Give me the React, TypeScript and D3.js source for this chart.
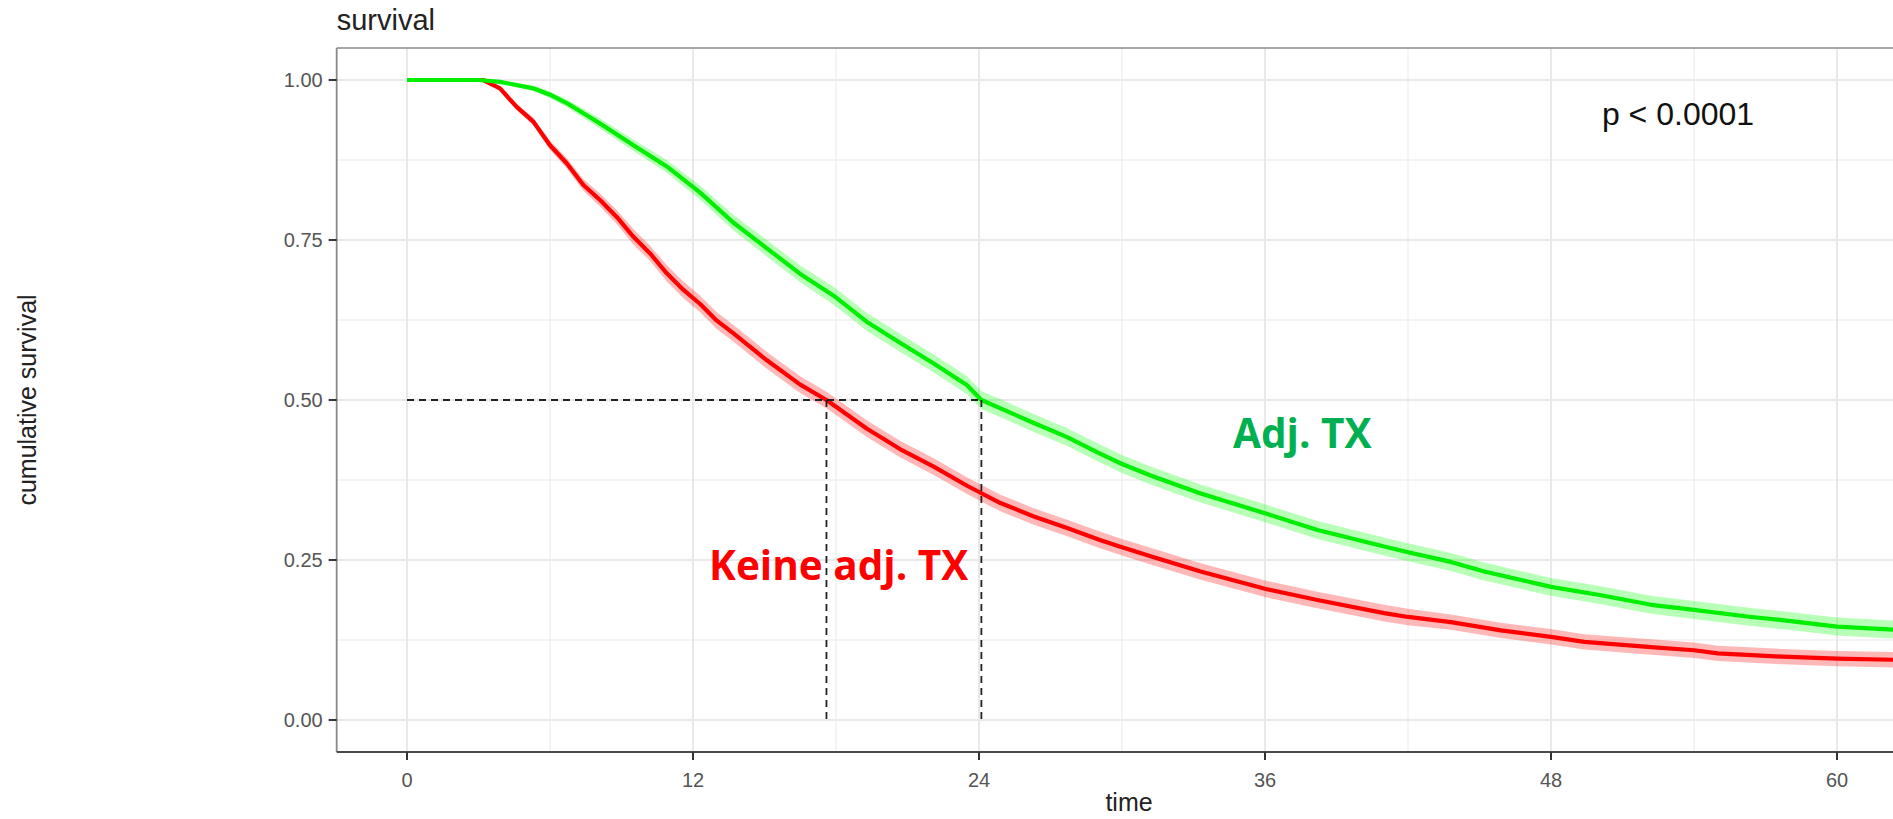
import React from "react";
import * as d3 from "d3";

// ---- data ----
const timeAdj = [0, 3.0, 3.9, 5.3, 6.0, 6.7, 8.1, 9.5, 10.9, 12.3, 13.7, 15.1, 16.5, 17.9, 19.3, 20.7, 22.1, 23.5, 24.1, 24.9, 26.3, 27.7, 29.1, 30, 31.2, 33.3, 36, 38.2, 41, 42, 43.8, 45.2, 48, 50.1, 52.2, 54, 56.4, 57.7, 60, 62.5];
const survAdj = [1, 1, 0.997, 0.987, 0.977, 0.964, 0.932, 0.898, 0.865, 0.824, 0.777, 0.737, 0.697, 0.663, 0.622, 0.589, 0.557, 0.523, 0.5, 0.487, 0.464, 0.442, 0.416, 0.4, 0.382, 0.354, 0.323, 0.297, 0.271, 0.262, 0.247, 0.232, 0.208, 0.195, 0.18, 0.172, 0.161, 0.156, 0.146, 0.141];
const ciAdj = [0, 0, 0.002, 0.004, 0.005, 0.006, 0.008, 0.009, 0.01, 0.011, 0.012, 0.013, 0.013, 0.014, 0.014, 0.014, 0.014, 0.014, 0.014, 0.014, 0.014, 0.014, 0.014, 0.014, 0.014, 0.014, 0.014, 0.014, 0.014, 0.014, 0.014, 0.014, 0.014, 0.014, 0.014, 0.014, 0.014, 0.014, 0.014, 0.014];

const timeNo = [0, 3.2, 3.9, 4.6, 5.3, 6.0, 6.7, 7.4, 8.1, 8.8, 9.5, 10.2, 10.9, 11.6, 12.3, 13.0, 13.7, 14.4, 15.1, 16.5, 17.6, 19.3, 20.7, 22.1, 23.5, 24.9, 26.3, 27.7, 29.1, 30, 31.2, 33.3, 36, 38.2, 41, 42, 43.8, 45.9, 48, 49.4, 52.2, 54, 55, 57.7, 60, 62.5];
const survNo = [1, 1, 0.987, 0.958, 0.935, 0.898, 0.87, 0.836, 0.8125, 0.786, 0.755, 0.729, 0.698, 0.672, 0.65, 0.624, 0.604, 0.583, 0.562, 0.524, 0.5, 0.455, 0.423, 0.396, 0.366, 0.339, 0.318, 0.3, 0.281, 0.27, 0.256, 0.232, 0.205, 0.1875, 0.167, 0.161, 0.153, 0.14, 0.13, 0.122, 0.114, 0.109, 0.104, 0.099, 0.096, 0.094];
const ciNo = [0, 0, 0.003, 0.005, 0.006, 0.007, 0.008, 0.009, 0.01, 0.011, 0.012, 0.012, 0.013, 0.013, 0.013, 0.013, 0.013, 0.013, 0.013, 0.013, 0.013, 0.013, 0.013, 0.013, 0.013, 0.013, 0.013, 0.013, 0.013, 0.013, 0.013, 0.013, 0.013, 0.013, 0.013, 0.013, 0.012, 0.012, 0.012, 0.012, 0.012, 0.012, 0.012, 0.012, 0.012, 0.012];

const xTicks = [0, 12, 24, 36, 48, 60];
const xMinor = [6, 18, 30, 42, 54];
const yTicks = [0, 0.25, 0.5, 0.75, 1];
const yTickLabels = ["0.00", "0.25", "0.50", "0.75", "1.00"];
const yMinor = [0.125, 0.375, 0.625, 0.875];

const medianAdj = 24.1;
const medianNo = 17.6;

const W = 1893;
const H = 819;

export default function App() {
  const x = d3.scaleLinear().domain([0, 60]).range([407, 1837]);
  const y = d3.scaleLinear().domain([0, 1]).range([720, 80]);
  const panelLeft = x(-2.95);
  const panelRight = x(63);
  const panelTop = y(1.05);
  const panelBottom = y(-0.05);

  const mk = (t: number[], s: number[], c: number[]) =>
    t.map((tt, i) => ({ t: tt, s: s[i], c: c[i] }));
  const adj = mk(timeAdj, survAdj, ciAdj);
  const no = mk(timeNo, survNo, ciNo);

  const line = d3
    .line<{ t: number; s: number; c: number }>()
    .x((d) => x(d.t))
    .y((d) => y(d.s))
    .curve(d3.curveLinear);
  const area = d3
    .area<{ t: number; s: number; c: number }>()
    .x((d) => x(d.t))
    .y0((d) => y(d.s - d.c))
    .y1((d) => y(d.s + d.c))
    .curve(d3.curveLinear);

  const font = "'Liberation Sans', Arial, sans-serif";

  return (
    <svg
      width={W}
      height={H}
      style={{ position: "absolute", left: 0, top: 0, background: "#fff" }}
      fontFamily={font}
    >
      <rect x={0} y={0} width={W} height={H} fill="#fff" />
      <defs>
        <clipPath id="panel">
          <rect x={panelLeft} y={panelTop} width={panelRight - panelLeft} height={panelBottom - panelTop} />
        </clipPath>
      </defs>

      {/* grid */}
      <g>
        {yMinor.map((v) => (
          <line key={"ym" + v} x1={panelLeft} x2={panelRight} y1={y(v)} y2={y(v)} stroke="#f0f0f0" strokeWidth={1.5} />
        ))}
        {xMinor.map((v) => (
          <line key={"xm" + v} x1={x(v)} x2={x(v)} y1={panelTop} y2={panelBottom} stroke="#f0f0f0" strokeWidth={1.5} />
        ))}
        {yTicks.map((v) => (
          <line key={"y" + v} x1={panelLeft} x2={panelRight} y1={y(v)} y2={y(v)} stroke="#e9e9e9" strokeWidth={2} />
        ))}
        {xTicks.map((v) => (
          <line key={"x" + v} x1={x(v)} x2={x(v)} y1={panelTop} y2={panelBottom} stroke="#e9e9e9" strokeWidth={2} />
        ))}
      </g>

      <g clipPath="url(#panel)">
        <path d={area(no) || ""} fill="#ff0000" fillOpacity={0.28} />
        <path d={area(adj) || ""} fill="#00ff00" fillOpacity={0.28} />
        <path d={line(no) || ""} fill="none" stroke="#ff0000" strokeWidth={4.2} strokeLinejoin="round" />
        <path d={line(adj) || ""} fill="none" stroke="#00ee00" strokeWidth={4.2} strokeLinejoin="round" />

        {/* median lines */}
        <line x1={x(0)} x2={x(medianAdj)} y1={y(0.5)} y2={y(0.5)} stroke="#222" strokeWidth={1.8} strokeDasharray="7,5" />
        <line x1={x(medianNo)} x2={x(medianNo)} y1={y(0.5)} y2={y(0)} stroke="#222" strokeWidth={1.8} strokeDasharray="7,5" />
        <line x1={x(medianAdj)} x2={x(medianAdj)} y1={y(0.5)} y2={y(0)} stroke="#222" strokeWidth={1.8} strokeDasharray="7,5" />
      </g>

      {/* panel border */}
      <line x1={panelLeft} x2={panelRight} y1={panelTop} y2={panelTop} stroke="#8a8a8a" strokeWidth={1.6} />
      <line x1={panelLeft} x2={panelLeft} y1={panelTop} y2={panelBottom} stroke="#8a8a8a" strokeWidth={1.8} />
      <line x1={panelLeft} x2={panelRight} y1={panelBottom} y2={panelBottom} stroke="#4a4a4a" strokeWidth={2} />

      {/* y axis */}
      {yTicks.map((v, i) => (
        <g key={"yt" + v}>
          <line x1={panelLeft - 8} x2={panelLeft} y1={y(v)} y2={y(v)} stroke="#333" strokeWidth={2} />
          <text x={panelLeft - 14} y={y(v)} textAnchor="end" dominantBaseline="central" fontSize={20} fill="#555">
            {yTickLabels[i]}
          </text>
        </g>
      ))}

      {/* x axis */}
      {xTicks.map((v) => (
        <g key={"xt" + v}>
          <line x1={x(v)} x2={x(v)} y1={panelBottom} y2={panelBottom + 8} stroke="#333" strokeWidth={2} />
          <text x={x(v)} y={787} textAnchor="middle" fontSize={20} fill="#555">
            {v}
          </text>
        </g>
      ))}

      <text x={1129} y={811} textAnchor="middle" fontSize={25} fill="#222">
        time
      </text>
      <text
        transform={`translate(27,400) rotate(-90)`}
        textAnchor="middle"
        dominantBaseline="central"
        fontSize={25}
        fill="#222"
      >
        cumulative survival
      </text>
      <text x={panelLeft} y={30} fontSize={29} fill="#222">
        survival
      </text>

      <text x={1678} y={125} textAnchor="middle" fontSize={32} fill="#111">
        p &lt; 0.0001
      </text>

      <text x={1233} y={448} fontSize={40.5} fontWeight="bold" fill="#00b050" fontFamily="'Open Sans', sans-serif">
        Adj. TX
      </text>
      <text x={709} y={580} fontSize={40.5} fontWeight="bold" fill="#ff0000" fontFamily="'Open Sans', sans-serif">
        Keine adj. TX
      </text>
    </svg>
  );
}
